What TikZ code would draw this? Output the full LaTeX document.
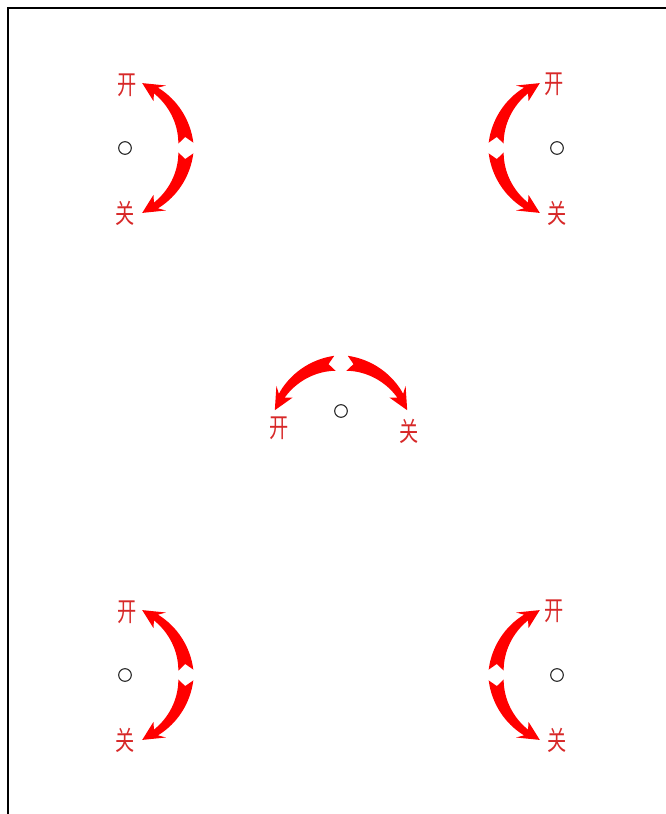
\documentclass[tikz,border=0pt]{standalone}
\usepackage{fontspec}
\newfontfamily\cjk{Noto Sans CJK SC}
\usepackage{tikz}
\usetikzlibrary{calc}
\definecolor{arrowred}{RGB}{255,0,0}
\definecolor{labelred}{RGB}{215,40,40}
\tikzstyle{hole}=[circle, draw=black!85, line width=0.8pt, minimum size=9.5pt, inner sep=0pt]
\tikzstyle{lbl}=[text=labelred, inner sep=0pt, font=\cjk\fontsize{20}{20}\selectfont]
\tikzstyle{frame}=[line width=1.5pt, black]
% tapered bent arrow: centre x, centre y, radius, tail angle, tip angle
\newcommand{\bentarrow}[5]{%
	\pgfmathsetmacro\ah{#4+0.80*((#5)-(#4))}
	\pgfmathsetmacro\ab{#4+0.74*((#5)-(#4))}
	\pgfmathsetmacro\an{#4+0.08*((#5)-(#4))}
	\fill[arrowred, shift={(#1,#2)}]
		plot[domain=#4:\ah, samples=24] (\x:{#3+7.5-4*(\x-(#4))/(\ah-(#4))})
		-- (\ab:{#3+10}) -- (#5:#3) -- (\ab:{#3-10})
		-- plot[domain=\ah:#4, samples=24] (\x:{#3-7.5+4*(\x-(#4))/(\ah-(#4))})
		-- (\an:#3) -- cycle;
}

\begin{document}
\begin{tikzpicture}[x=0.75pt, y=-0.75pt]
			\useasboundingbox (0,0) rectangle (666,814);
			\draw[frame] (666,8) -- (8,8) -- (8,814);

			% left side
			\foreach \cy/\nm in {148/tl, 675/bl}{
				\node[hole] (\nm) at (125,\cy) {};
				\node[lbl] (\nm-open) at (127,\cy-63) {\scalebox{0.72}[1]{开}};
				\node[lbl] (\nm-close) at (125,\cy+65) {\scalebox{0.72}[1]{关}};
				\bentarrow{116}{\cy}{70}{-4}{-68}
				\bentarrow{116}{\cy}{70}{4}{68}
			}

			% right side
			\foreach \cy/\nm in {148/tr, 675/br}{
				\node[hole] (\nm) at (557,\cy) {};
				\node[lbl] (\nm-open) at (554,\cy-64) {\scalebox{0.72}[1]{开}};
				\node[lbl] (\nm-close) at (557,\cy+65) {\scalebox{0.72}[1]{关}};
				\bentarrow{566}{\cy}{70}{-176}{-112}
				\bentarrow{566}{\cy}{70}{176}{112}
			}

			% middle
			\node[hole] (mid) at (341,411) {};
			\node[lbl] (mid-open) at (279,428) {\scalebox{0.72}[1]{开}};
			\node[lbl] (mid-close) at (409,431) {\scalebox{0.72}[1]{关}};
			\bentarrow{341}{433}{70}{-95}{-161}
			\bentarrow{341}{433}{70}{-85}{-19}
		\end{tikzpicture}
\end{document}
